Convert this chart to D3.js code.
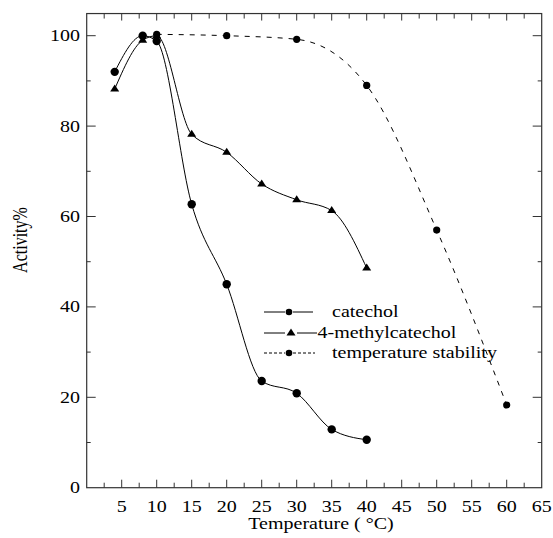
<!DOCTYPE html>
<html><head><meta charset="utf-8">
<script src="https://cdn.jsdelivr.net/npm/d3@7"></script>
<style>html,body{margin:0;padding:0;background:#fff}svg{display:block}
text{font-family:"Liberation Serif","DejaVu Serif",serif;}</style>
</head><body><svg id="c" width="553" height="538"></svg>
<script>
// ---- data ----
const catecholX = [4, 8, 10, 15, 20, 25, 30, 35, 40];
const catecholY = [92, 100, 98.8, 62.7, 45.0, 23.6, 20.9, 12.9, 10.6];
const methylX = [4, 8, 10, 15, 20, 25, 30, 35, 40];
const methylY = [88.2, 99.0, 100, 78.2, 74.2, 67.2, 63.7, 61.3, 48.6];
const stabilityX = [10, 20, 30, 40, 50, 60];
const stabilityY = [100.3, 100, 99.2, 89.0, 57.0, 18.3];
const xTicks = [5, 10, 15, 20, 25, 30, 35, 40, 45, 50, 55, 60, 65];
const yTicks = [0, 20, 40, 60, 80, 100];
const legendLabels = ["catechol", "4-methylcatechol", "temperature stability"];

const svg = d3.select("#c");
const x = d3.scaleLinear().domain([0, 65]).range([86.7, 541.7]);
const y = d3.scaleLinear().domain([0, 100]).range([487.7, 35.7]);
const yTop = 104.9;
const SX = 1.25;
const axisCol = "#333";

// frame
svg.append("rect").attr("x", x(0)).attr("y", y(yTop)).attr("width", x(65) - x(0)).attr("height", y(0) - y(yTop))
  .attr("fill", "none").attr("stroke", axisCol).attr("stroke-width", 1.2);

// x ticks (major every 5, minor every 2.5), bottom and top, inward
d3.range(2.5, 65, 2.5).forEach(v => {
  const major = Math.abs(v % 5) < 1e-6;
  svg.append("line").attr("x1", x(v)).attr("x2", x(v)).attr("y1", y(0)).attr("y2", y(0) - (major ? 8 : 5)).attr("stroke", axisCol);
  svg.append("line").attr("x1", x(v)).attr("x2", x(v)).attr("y1", y(yTop)).attr("y2", y(yTop) + (major ? 7 : 5)).attr("stroke", axisCol);
});
// y ticks (major every 20, minor every 10)
d3.range(10, 101, 10).forEach(v => {
  const L = v % 20 === 0 ? 9 : 4;
  svg.append("line").attr("x1", x(0)).attr("x2", x(0) + L).attr("y1", y(v)).attr("y2", y(v)).attr("stroke", axisCol);
  svg.append("line").attr("x1", x(65)).attr("x2", x(65) - L).attr("y1", y(v)).attr("y2", y(v)).attr("stroke", axisCol);
});

function txt(str, tx, ty, anchor, extra) {
  return svg.append("text").attr("transform", `translate(${tx},${ty}) scale(${SX},1)` + (extra || ""))
    .attr("text-anchor", anchor).attr("font-size", 16).attr("fill", "#000").text(str);
}
xTicks.forEach(v => txt(String(v), x(v), 511.5, "middle"));
yTicks.forEach(v => txt(String(v), 80, y(v) + 5.5, "end"));
txt("Temperature ( °C)", 321, 529, "middle");
txt("Activity%", 27, 240, "middle", " rotate(-90)");

// lines
const curve = d3.curveMonotoneX;
function series(xs, ys) { return xs.map((v, i) => [v, ys[i]]); }
const line = d3.line().x(d => x(d[0])).y(d => y(d[1])).curve(curve);
const cat = series(catecholX, catecholY), met = series(methylX, methylY), sta = series(stabilityX, stabilityY);
svg.append("path").attr("d", line(sta)).attr("fill", "none").attr("stroke", "#000").attr("stroke-width", 1).attr("stroke-dasharray", "5,6");
svg.append("path").attr("d", line(met)).attr("fill", "none").attr("stroke", "#000").attr("stroke-width", 1);
svg.append("path").attr("d", line(cat)).attr("fill", "none").attr("stroke", "#000").attr("stroke-width", 1);

const tri = "M0,-4.5L4.5,2.5L-4.5,2.5Z";
svg.selectAll(".tri").data(met).enter().append("path").attr("d", tri)
  .attr("transform", d => `translate(${x(d[0])},${y(d[1])})`).attr("fill", "#000");
svg.selectAll(".cat").data(cat).enter().append("circle").attr("cx", d => x(d[0])).attr("cy", d => y(d[1])).attr("r", 4.2).attr("fill", "#000");
svg.selectAll(".sta").data(sta).enter().append("circle").attr("cx", d => x(d[0])).attr("cy", d => y(d[1])).attr("r", 3.6).attr("fill", "#000");

// legend
const lg = [
  {y: 312, lx1: 264, lx2: 285, rx1: 293, rx2: 313, mx: 289, tx: 332, mark: "c", dash: null},
  {y: 333, lx1: 264, lx2: 285, rx1: 297, rx2: 317, mx: 291, tx: 317.5, mark: "t", dash: null},
  {y: 353, lx1: 264, lx2: 285, rx1: 293, rx2: 315, mx: 289, tx: 332, mark: "c", dash: "3,2"}
];
lg.forEach((d, i) => {
  [[d.lx1, d.lx2], [d.rx1, d.rx2]].forEach(s => svg.append("line").attr("x1", s[0]).attr("x2", s[1]).attr("y1", d.y).attr("y2", d.y)
    .attr("stroke", "#000").attr("stroke-width", 1).attr("stroke-dasharray", d.dash));
  if (d.mark === "c") svg.append("circle").attr("cx", d.mx).attr("cy", d.y).attr("r", 3.3).attr("fill", "#000");
  else svg.append("path").attr("d", tri).attr("transform", `translate(${d.mx},${d.y})`).attr("fill", "#000");
  txt(legendLabels[i], d.tx, d.y + 5, "start");
});
</script></body></html>
